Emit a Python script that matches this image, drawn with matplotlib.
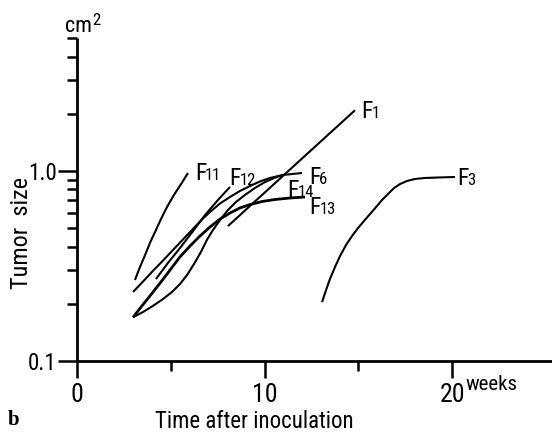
import matplotlib
matplotlib.use("Agg")
import matplotlib.pyplot as plt
from matplotlib import font_manager
from matplotlib.ticker import FixedLocator, NullFormatter

# ---------------- data (weeks, cm^2) ----------------
f11_x = [3.09, 3.36, 3.63, 3.89, 4.21, 4.48, 4.8, 5.17, 5.55, 5.92]
f11_y = [0.267, 0.3125, 0.361, 0.418, 0.489, 0.559, 0.646, 0.748, 0.854, 0.976]

f12_x = [4.21, 4.85, 5.49, 6.19, 6.83, 7.52, 8.16]
f12_y = [0.27, 0.328, 0.393, 0.483, 0.587, 0.704, 0.824]

f1_x = [8.05, 14.83]
f1_y = [0.513, 2.09]

f6_x = [2.99, 3.52, 4.05, 4.59, 5.12, 5.65, 6.13, 6.61, 7.09, 7.63, 8.16, 8.69,
        9.23, 9.76, 10.29, 10.99, 11.47, 12.0]
f6_y = [0.231, 0.262, 0.298, 0.338, 0.384, 0.436, 0.489, 0.549, 0.608, 0.675, 0.730, 0.785,
        0.834, 0.881, 0.919, 0.953, 0.964, 0.976]

f14_x = [2.99, 3.52, 4.05, 4.59, 5.07, 5.49, 5.87, 6.24, 6.61, 6.93, 7.25, 7.63, 8.05,
         8.48, 8.96, 9.49, 10.03, 10.51, 10.99]
f14_y = [0.170, 0.181, 0.195, 0.212, 0.231, 0.254, 0.2835, 0.324, 0.375, 0.434, 0.489, 0.552,
         0.623, 0.687, 0.748, 0.814, 0.875, 0.919, 0.953]

f13_x = [2.99, 3.41, 3.89, 4.43, 4.96, 5.49, 6.03, 6.56, 7.09, 7.63, 8.16, 8.69, 9.23,
         9.87, 10.56, 11.36, 12.16]
f13_y = [0.170, 0.192, 0.220, 0.257, 0.301, 0.353, 0.403, 0.455, 0.507, 0.559, 0.601, 0.639,
         0.666, 0.691, 0.708, 0.721, 0.730]

f3_x = [13.07, 13.28, 13.49, 13.76, 14.03, 14.35, 14.67, 14.99, 15.31, 15.63, 15.95, 16.27,
        16.59, 16.91, 17.23, 17.6, 18.03, 18.56, 19.36, 20.16]
f3_y = [0.204, 0.236, 0.270, 0.3125, 0.357, 0.408, 0.455, 0.501, 0.546, 0.594, 0.646, 0.704,
        0.757, 0.814, 0.854, 0.886, 0.908, 0.919, 0.925, 0.930]

x_major = [0, 10, 20]
x_major_labels = ["0", "10", "20"]
x_minor = [5, 15]
y_major = [0.1, 1.0]
y_major_labels = ["0.1", "1.0"]
y_minor = [0.2, 0.3, 0.4, 0.5, 0.6, 0.7, 0.8, 0.9, 2, 3, 4, 5]

# ---------------- fonts ----------------
def pick_font():
    fl = font_manager.fontManager.ttflist
    names = {f.name for f in fl}
    for n in ("Liberation Sans Narrow", "Roboto Condensed", "Open Sans Condensed",
              "Noto Sans Condensed", "DejaVu Sans Condensed"):
        if n in names:
            return dict(family=n), True
    for fam in ("Noto Sans", "Roboto", "Open Sans", "DejaVu Sans", "Liberation Sans"):
        for f in fl:
            if f.name == fam and f.stretch in ("condensed", "semi-condensed", "extra-condensed") \
                    and f.style == "normal":
                return dict(family=fam, stretch=f.stretch), True
    return dict(family="DejaVu Sans"), False

FONT, NARROW = pick_font()
if NARROW:
    SZ = dict(xtick=18.5, ytick=16.5, xlabel=16.5, ylabel=17.5, F=17, sub=12, weeks=15, cm=16)
else:
    SZ = dict(xtick=15, ytick=14, xlabel=15, ylabel=15, F=15, sub=10, weeks=13.5, cm=14)

def fp(size, **kw):
    d = dict(FONT)
    d.update(kw)
    return font_manager.FontProperties(size=size, **d)

# ---------------- figure ----------------
W, H = 552, 434
fig = plt.figure(figsize=(W / 100, H / 100), dpi=100)
x0_px, xscale = 77, 18.75
ax = fig.add_axes([x0_px / W, (H - 361) / H, (W - x0_px) / W, (361 - 38.2) / H])
ax.set_yscale("log")
ax.set_xlim(0, (W - x0_px) / xscale)
ax.set_ylim(0.1, 5.0)

for s in ("top", "right"):
    ax.spines[s].set_visible(False)
for s in ("left", "bottom"):
    ax.spines[s].set_linewidth(2.0)
    ax.spines[s].set_capstyle("butt")

ax.set_xticks(x_major, x_major_labels, fontproperties=fp(SZ["xtick"]))
ax.xaxis.set_minor_locator(FixedLocator(x_minor))
ax.xaxis.set_minor_formatter(NullFormatter())
ax.set_yticks(y_major, y_major_labels, fontproperties=fp(SZ["ytick"]))
ax.yaxis.set_minor_locator(FixedLocator(y_minor))
ax.yaxis.set_minor_formatter(NullFormatter())
ax.tick_params(axis="x", which="major", direction="out", length=12.5, width=1.8, pad=3)
ax.tick_params(axis="x", which="minor", direction="out", length=7.2, width=1.8)
ax.tick_params(axis="y", which="major", direction="out", length=13.5, width=1.8, pad=1)
ax.tick_params(axis="y", which="minor", direction="out", length=7.4, width=1.8)

lw = 1.5
curves = [
    (f11_x, f11_y, lw, (7, -7), "F", "11"),
    (f12_x, f12_y, lw, (-1, 2), "F", "12"),
    (f1_x, f1_y, lw, (6, -8), "F", "1"),
    (f6_x, f6_y, lw, (7, -11), "F", "6"),
    (f14_x, f14_y, lw, (4, -22), "F", "14"),
    (f13_x, f13_y, 2.0, (4, -17), "F", "13"),
    (f3_x, f3_y, lw, (2, -8), "F", "3"),
]

renderer = fig.canvas.get_renderer()
for xs, ys, w, (dx, dy), main, sub in curves:
    ax.plot(xs, ys, color="black", lw=w, solid_capstyle="butt", solid_joinstyle="round")
    t = ax.annotate(main, xy=(xs[-1], ys[-1]), xytext=(dx, dy), textcoords="offset pixels",
                    ha="left", va="baseline", fontproperties=fp(SZ["F"]), annotation_clip=False)
    wpx = t.get_window_extent(renderer).width
    ax.annotate(sub, xy=(xs[-1], ys[-1]), xytext=(dx + wpx - 1, dy), textcoords="offset pixels",
                ha="left", va="baseline", fontproperties=fp(SZ["sub"]), annotation_clip=False)

# axis texts
ax.set_xlabel("Time after inoculation", fontproperties=fp(SZ["xlabel"]))
ax.xaxis.set_label_coords((254 - x0_px) / (W - x0_px), (361 - 410) / (361 - 38.2))
ax.xaxis.label.set_va("top")
ax.set_ylabel("Tumor  size", fontproperties=fp(SZ["ylabel"]))
ax.yaxis.set_label_coords((33 - x0_px) / (W - x0_px), (361 - 233) / (361 - 38.2))

ax.annotate("weeks", xy=(20, 0.1), xytext=(13, -29), textcoords="offset pixels",
            ha="left", va="baseline", fontproperties=fp(SZ["weeks"]), annotation_clip=False)
t = ax.annotate("cm", xy=(0, 5.0), xytext=(-12, 6), textcoords="offset pixels",
                ha="left", va="baseline", fontproperties=fp(SZ["cm"]), annotation_clip=False)
wpx = t.get_window_extent(renderer).width
ax.annotate("2", xy=(0, 5.0), xytext=(-12 + wpx, 13), textcoords="offset pixels",
            ha="left", va="baseline", fontproperties=fp(SZ["sub"]), annotation_clip=False)

fig.text(8 / W, 1 - 425 / H, "b", ha="left", va="baseline",
         fontproperties=font_manager.FontProperties(family="Liberation Serif", weight="bold", size=15))

fig.savefig("out.png", dpi=100)
